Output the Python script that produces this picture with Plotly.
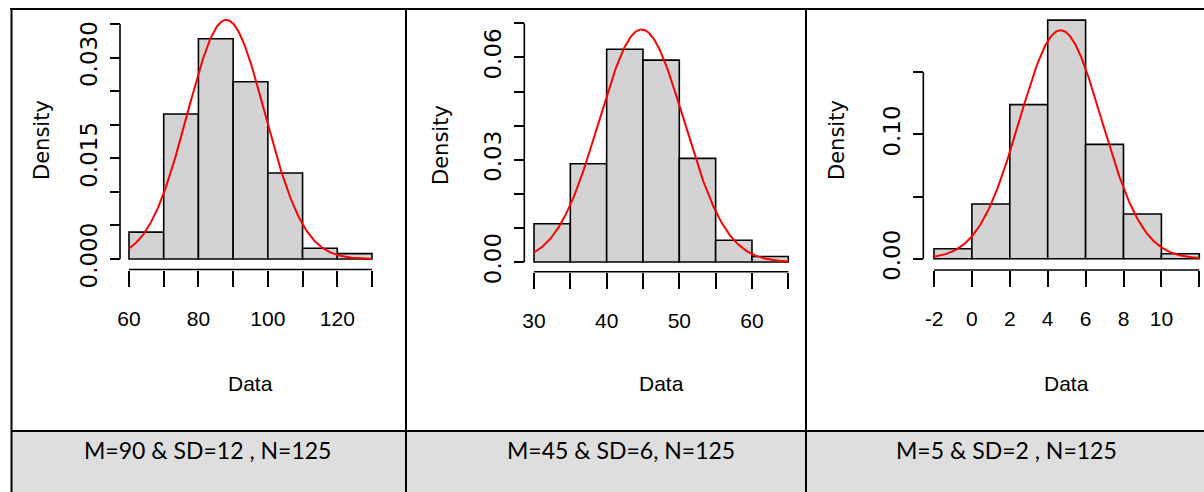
import numpy as np
import plotly.graph_objects as go

# ---- data: three histograms (density scale) with fitted normal curves ----
bins_a = [60, 70, 80, 90, 100, 110, 120, 130]
dens_a = [0.0040, 0.0216, 0.0328, 0.0264, 0.0128, 0.0016, 0.0008]
fit_a = (88.0, 11.2)          # mean, sd of the fitted curve
xticks_a = [60, 70, 80, 90, 100, 110, 120, 130]
xlabels_a = ["60", "", "80", "", "100", "", "120", ""]
yticks_a = [0.0, 0.005, 0.010, 0.015, 0.020, 0.025, 0.030, 0.035]
ylabels_a = ["0.000", "", "", "0.015", "", "", "0.030", ""]
caption_a = "M=90 & SD=12 , N=125"

bins_b = [30, 35, 40, 45, 50, 55, 60, 65]
dens_b = [0.0112, 0.0288, 0.0624, 0.0592, 0.0304, 0.0064, 0.0016]
fit_b = (44.8, 5.85)
xticks_b = [30, 35, 40, 45, 50, 55, 60, 65]
xlabels_b = ["30", "", "40", "", "50", "", "60", ""]
yticks_b = [0.0, 0.01, 0.02, 0.03, 0.04, 0.05, 0.06, 0.07]
ylabels_b = ["0.00", "", "", "0.03", "", "", "0.06", ""]
caption_b = "M=45 & SD=6, N=125"

bins_c = [-2, 0, 2, 4, 6, 8, 10, 12]
dens_c = [0.008, 0.044, 0.124, 0.192, 0.092, 0.036, 0.004]
fit_c = (4.68, 2.17)
xticks_c = [-2, 0, 2, 4, 6, 8, 10, 12]
xlabels_c = ["-2", "0", "2", "4", "6", "8", "10", ""]
yticks_c = [0.0, 0.05, 0.10, 0.15]
ylabels_c = ["0.00", "", "0.10", ""]
caption_c = "M=5 & SD=2 , N=125"

# ---- page geometry (pixels) ----
W, H = 1204, 492


def px(x):
    return x / W


def py(y):
    return 1 - y / H


# x0/x1: pixel x of first/last x tick; y0/y1: pixel y of first/last y tick
# yline: pixel x of the y axis line; xline: pixel y of the x axis line
panels = [
    dict(bins=bins_a, dens=dens_a, fit=fit_a, xt=xticks_a, xl=xlabels_a, yt=yticks_a, yl=ylabels_a,
         cap=caption_a, x0=129, x1=372, y0=259, y1=24, yline=120, xline=269.5,
         dens_x=42, dens_y=140, cap_x=207),
    dict(bins=bins_b, dens=dens_b, fit=fit_b, xt=xticks_b, xl=xlabels_b, yt=yticks_b, yl=ylabels_b,
         cap=caption_b, x0=534, x1=788.3, y0=262, y1=23.3, yline=524.3, xline=271.7,
         dens_x=441, dens_y=145, cap_x=621),
    dict(bins=bins_c, dens=dens_c, fit=fit_c, xt=xticks_c, xl=xlabels_c, yt=yticks_c, yl=ylabels_c,
         cap=caption_c, x0=934, x1=1199.3, y0=258.7, y1=72.3, yline=923.3, xline=270,
         dens_x=837, dens_y=140, cap_x=1006.5),
]

AX_FONT = dict(family="Liberation Sans, Arial, sans-serif", size=21, color="black")
ROT_FONT = dict(family="DejaVu Sans, Arial, sans-serif", size=23, color="black")
CAP_FONT = dict(family="Lato, Carlito, Calibri, sans-serif", size=23, color="black")
AXIS_W = 1.6

fig = go.Figure()
layout = dict(width=W, height=H, autosize=False, margin=dict(l=0, r=0, t=0, b=0, pad=0),
              paper_bgcolor="white", plot_bgcolor="rgba(0,0,0,0)", showlegend=False)
annotations = []
shapes = []

for i, p in enumerate(panels, start=1):
    xa = "x" if i == 1 else f"x{i}"
    ya = "y" if i == 1 else f"y{i}"
    edges = np.array(p["bins"], dtype=float)
    centers = (edges[:-1] + edges[1:]) / 2
    widths = np.diff(edges)

    fig.add_trace(go.Bar(x=centers, y=p["dens"], width=widths, xaxis=xa, yaxis=ya,
                         marker=dict(color="#D3D3D3", line=dict(color="black", width=1.6)),
                         hoverinfo="skip"))

    mu, sd = p["fit"]
    xs = np.linspace(edges[0], edges[-1], 301)
    ys = np.exp(-0.5 * ((xs - mu) / sd) ** 2) / (sd * np.sqrt(2 * np.pi))
    fig.add_trace(go.Scatter(x=xs, y=ys, mode="lines", xaxis=xa, yaxis=ya,
                             line=dict(color="#FF0000", width=2), hoverinfo="skip"))

    # plotting region a little larger than the tick span, same scale
    sx = (p["x1"] - p["x0"]) / (p["xt"][-1] - p["xt"][0])
    sy = (p["y0"] - p["y1"]) / (p["yt"][-1] - p["yt"][0])
    left_px = p["x0"] - 6
    right_px = min(p["x1"] + 6, W)
    bottom_px, top_px = p["y0"] + 4, 12
    xr = [p["xt"][0] - (p["x0"] - left_px) / sx, p["xt"][-1] + (right_px - p["x1"]) / sx]
    yr = [p["yt"][0] - (bottom_px - p["y0"]) / sy, p["yt"][0] + (p["y0"] - top_px) / sy]

    xkey = "xaxis" if i == 1 else f"xaxis{i}"
    ykey = "yaxis" if i == 1 else f"yaxis{i}"
    layout[xkey] = dict(domain=[px(left_px), px(right_px)], range=xr,
                        anchor="free", position=py(p["xline"]), showline=False,
                        ticks="outside", ticklen=16, tickwidth=AXIS_W, tickcolor="black",
                        tickmode="array", tickvals=p["xt"], ticktext=p["xl"],
                        tickfont=AX_FONT, ticklabelstandoff=14, automargin=False,
                        showgrid=False, zeroline=False, fixedrange=True)
    layout[ykey] = dict(domain=[py(bottom_px), py(top_px)], range=yr,
                        anchor="free", position=px(p["yline"]), showline=False,
                        ticks="outside", ticklen=10, tickwidth=AXIS_W, tickcolor="black",
                        tickmode="array", tickvals=p["yt"], ticktext=p["yl"],
                        tickangle=-90, tickfont=ROT_FONT, ticklabelstandoff=4, automargin=False,
                        showgrid=False, zeroline=False, fixedrange=True)

    # axis lines spanning first to last tick only
    shapes.append(dict(type="line", xref="paper", yref=ya, x0=px(p["yline"]), x1=px(p["yline"]),
                       y0=p["yt"][0], y1=p["yt"][-1], line=dict(color="black", width=AXIS_W)))
    shapes.append(dict(type="line", xref=xa, yref="paper", x0=p["xt"][0], x1=p["xt"][-1],
                       y0=py(p["xline"]), y1=py(p["xline"]), line=dict(color="black", width=AXIS_W)))

    annotations.append(dict(text="Density", x=px(p["dens_x"]), y=py(p["dens_y"]),
                            xref="paper", yref="paper", showarrow=False, textangle=-90,
                            xanchor="center", yanchor="middle",
                            font=dict(family="DejaVu Sans, Arial, sans-serif", size=21, color="black")))
    annotations.append(dict(text="Data", x=px((p["x0"] + p["x1"]) / 2), y=py(383),
                            xref="paper", yref="paper", showarrow=False,
                            xanchor="center", yanchor="middle", font=AX_FONT))
    annotations.append(dict(text=p["cap"], x=px(p["cap_x"]), y=py(450),
                            xref="paper", yref="paper", showarrow=False,
                            xanchor="center", yanchor="middle", font=CAP_FONT))

# table frame around the three plots and the caption row
line = dict(color="black", width=2)
shapes = [
    dict(type="rect", xref="paper", yref="paper", x0=px(11), x1=1, y0=0, y1=py(431),
         fillcolor="#DEDEDE", line=dict(width=0), layer="below"),
    dict(type="line", xref="paper", yref="paper", x0=px(10), x1=1, y0=py(9), y1=py(9), line=line),
    dict(type="line", xref="paper", yref="paper", x0=px(11.5), x1=px(11.5), y0=0, y1=py(9), line=line),
    dict(type="line", xref="paper", yref="paper", x0=px(406), x1=px(406), y0=0, y1=py(9), line=line),
    dict(type="line", xref="paper", yref="paper", x0=px(806), x1=px(806), y0=0, y1=py(9), line=line),
    dict(type="line", xref="paper", yref="paper", x0=px(11), x1=1, y0=py(431), y1=py(431), line=line),
] + shapes

layout["annotations"] = annotations
layout["shapes"] = shapes
fig.update_layout(**layout)
fig.write_html("out.html")
